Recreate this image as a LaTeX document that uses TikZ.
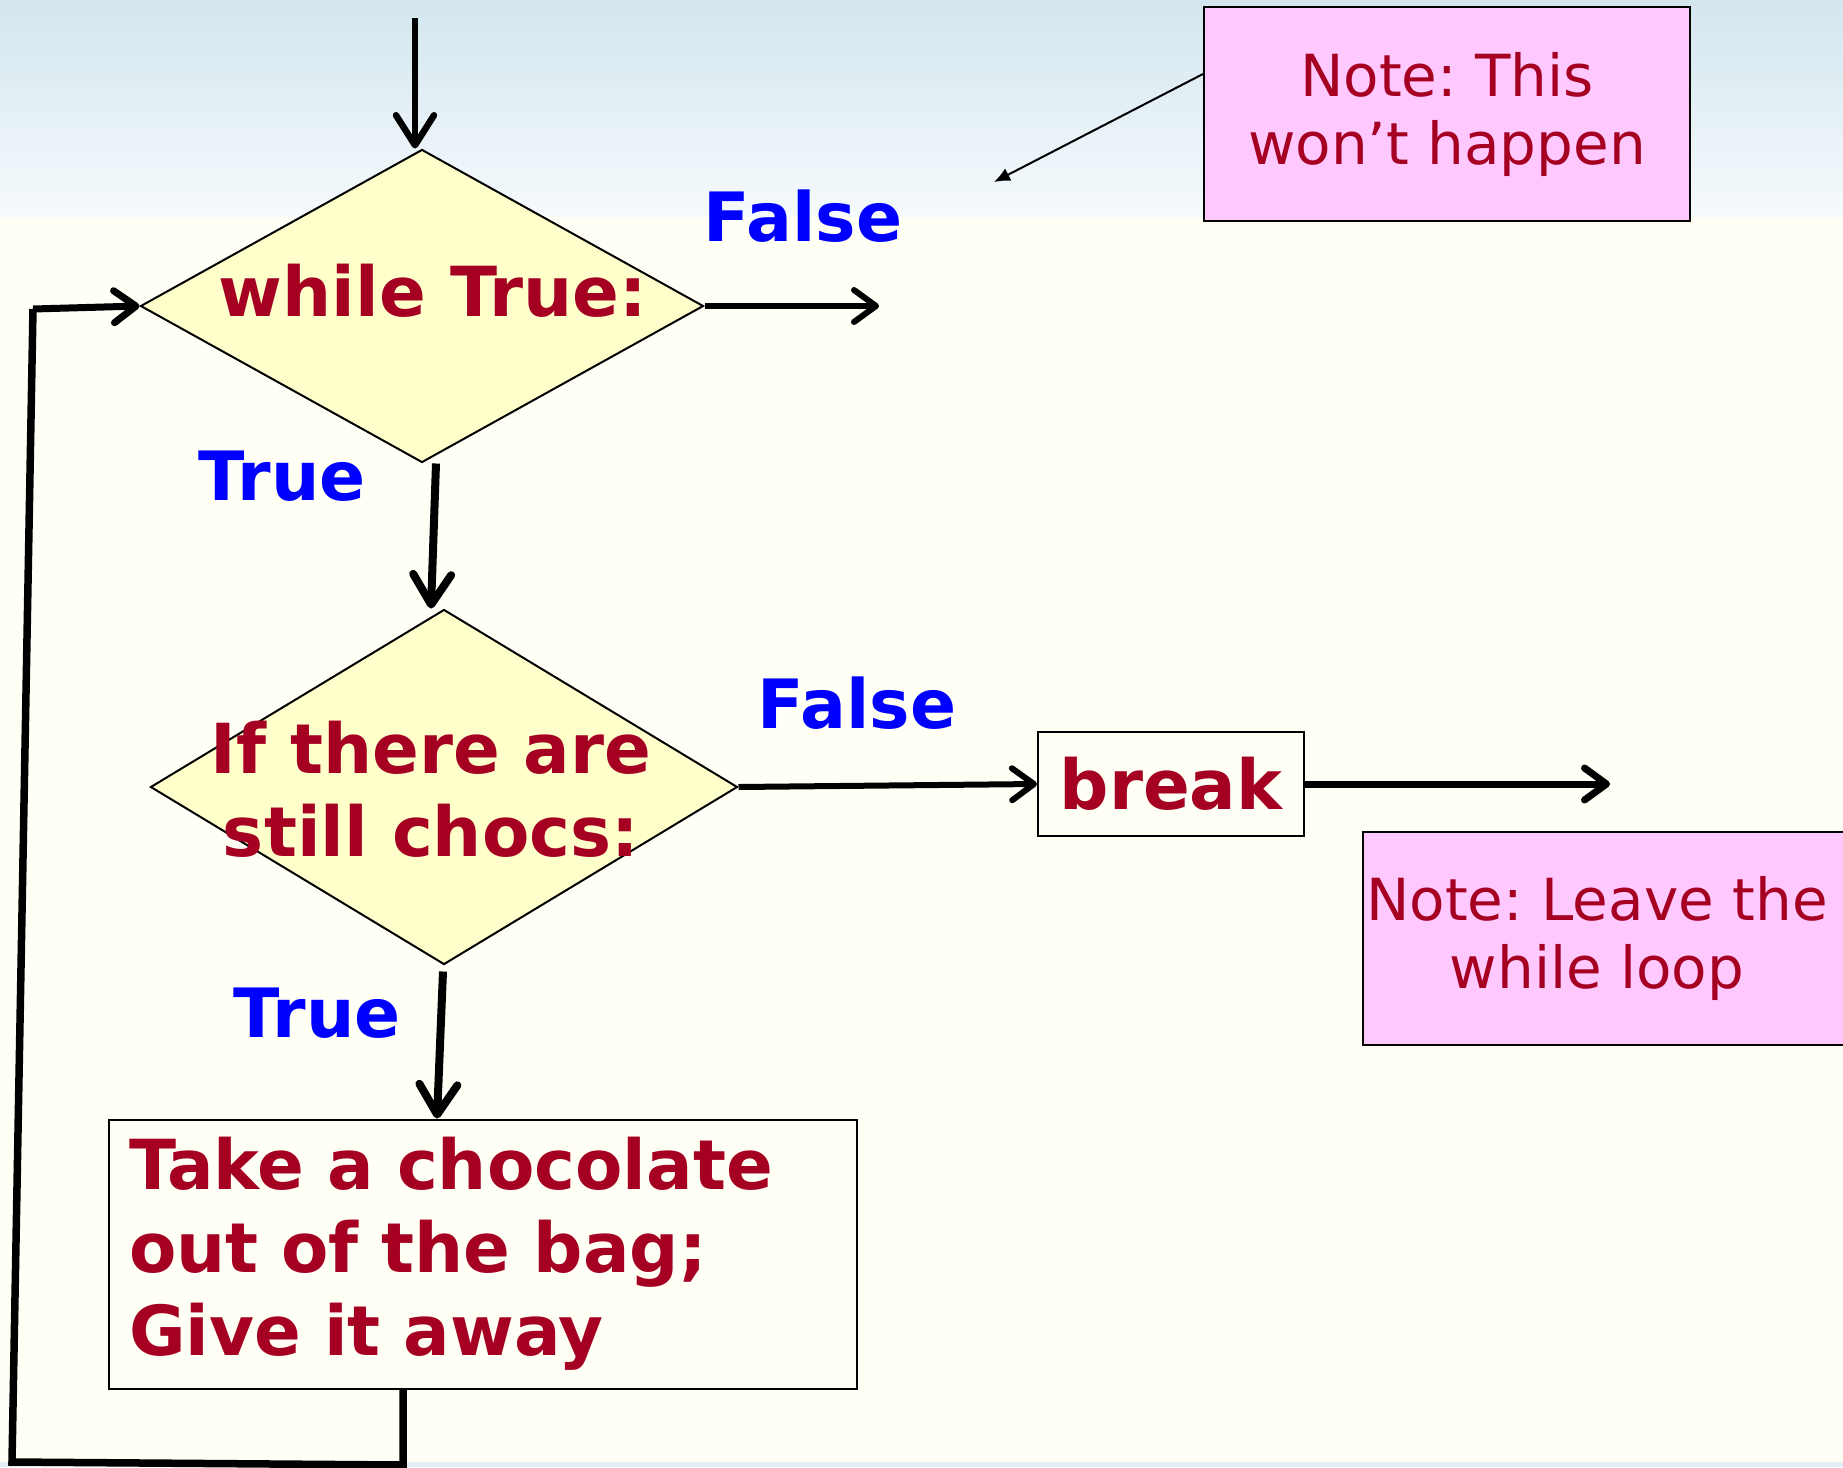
\documentclass[tikz,border=0pt]{standalone}
\usepackage{fontspec}
\setmainfont{DejaVu Sans}
\usetikzlibrary{shapes.geometric,arrows.meta,calc}
\definecolor{textred}{HTML}{A50021}
\definecolor{labelblue}{HTML}{0000FF}
\definecolor{condfill}{HTML}{FFFFCC}
\definecolor{notefill}{HTML}{FFC8FF}
\definecolor{skytop}{HTML}{D3E6EE}
\definecolor{skybot}{HTML}{F5FAFD}
\definecolor{paper}{HTML}{FFFFF6}
\frenchspacing

\begin{document}
\begin{tikzpicture}[x=1pt,y=-1pt,
  bigtext/.style={font=\fontsize{69}{83}\selectfont\bfseries, text=textred},
  notetext/.style={font=\fontsize{58}{68}\selectfont, text=textred},
  decision/.style={diamond, draw, line width=2pt, fill=condfill, inner sep=0pt},
  procbox/.style={rectangle, draw, line width=2pt, fill=paper, bigtext},
  notebox/.style={rectangle, draw, line width=2pt, fill=notefill, notetext, align=center},
  branch/.style={font=\fontsize{68}{83}\selectfont\bfseries, text=labelblue},
  flow/.style={line width=7pt, -{Straight Barb[round, length=22pt, width=32pt]}},
  bigflow/.style={line width=8pt, -{Straight Barb[round, length=30pt, width=38pt]}},
  loopline/.style={line width=7.5pt}]
  % background
  \useasboundingbox (0,0) rectangle (1843,1467);
  \fill[paper] (0,0) rectangle (1843,1467);
  \shade[top color=skytop, bottom color=skybot] (0,0) rectangle (1843,216);
  \fill[skytop!60] (0,1462) rectangle (1843,1467);

  % nodes
  \node[decision, minimum width=563pt, minimum height=313pt] (whileq) at (422,306) {};
  \node[bigtext] (whiletxt) at (433,291) {while True:};
  \node[decision, minimum width=587pt, minimum height=355pt] (choc) at (444,787) {};
  \node[bigtext, align=center] (choctxt) at (431,789) {If there are\\still chocs:};
  \node[procbox, minimum width=266pt, minimum height=104pt] (brk) at (1171,784) {break};
  \node[procbox, text width=708pt, inner xsep=20pt, minimum height=269pt, align=left] (take) at (483,1254)
    {Take a chocolate\\out of the bag;\\Give it away};
  \node[notebox, minimum width=486pt, minimum height=214pt] (note1) at (1447,114) {Note: This\\won’t happen};
  \node[notebox, minimum width=490pt, minimum height=213pt] (note2) at (1608,938) {\hspace*{-22pt}Note: Leave the\\\hspace*{-22pt}while loop};

  % branch labels
  \node[branch] (f1) at (803,216) {False};
  \node[branch] (t1) at (282,476) {True};
  \node[branch] (f2) at (857,703) {False};
  \node[branch] (t2) at (317,1013) {True};

  % free ends
  \coordinate (entry) at (415,18);
  \coordinate (out1) at (879,306);
  \coordinate (out2) at (1610,784);
  \coordinate (hint) at (994,182);
  \coordinate (loopa) at (403,1465);
  \coordinate (loopb) at (12,1462);
  \coordinate (loopc) at (33,309);

  % connectors
  \draw[bigflow, line width=6.5pt] (entry) -- (entry |- whileq.north);
  \draw[flow, line width=6pt] (whileq.east) -- (out1);
  \draw[bigflow] ([xshift=14pt]whileq.south) -- ([xshift=-13pt]choc.north);
  \draw[flow, line width=6pt] (choc.east) -- (brk.west);
  \draw[flow] (brk.east) -- (out2);
  \draw[bigflow] ([xshift=-1pt,yshift=-6pt]choc.south) -- ([xshift=-46pt]take.north);
  \draw[line width=2pt, -{Latex[length=16pt, width=14pt]}] ([yshift=40pt]note1.west) -- (hint);
  \draw[loopline] ([xshift=-80pt]take.south) -- (loopa) -- (loopb) -- (loopc);
  \draw[flow] (loopc) -- (whileq.west);
\end{tikzpicture}
\end{document}
